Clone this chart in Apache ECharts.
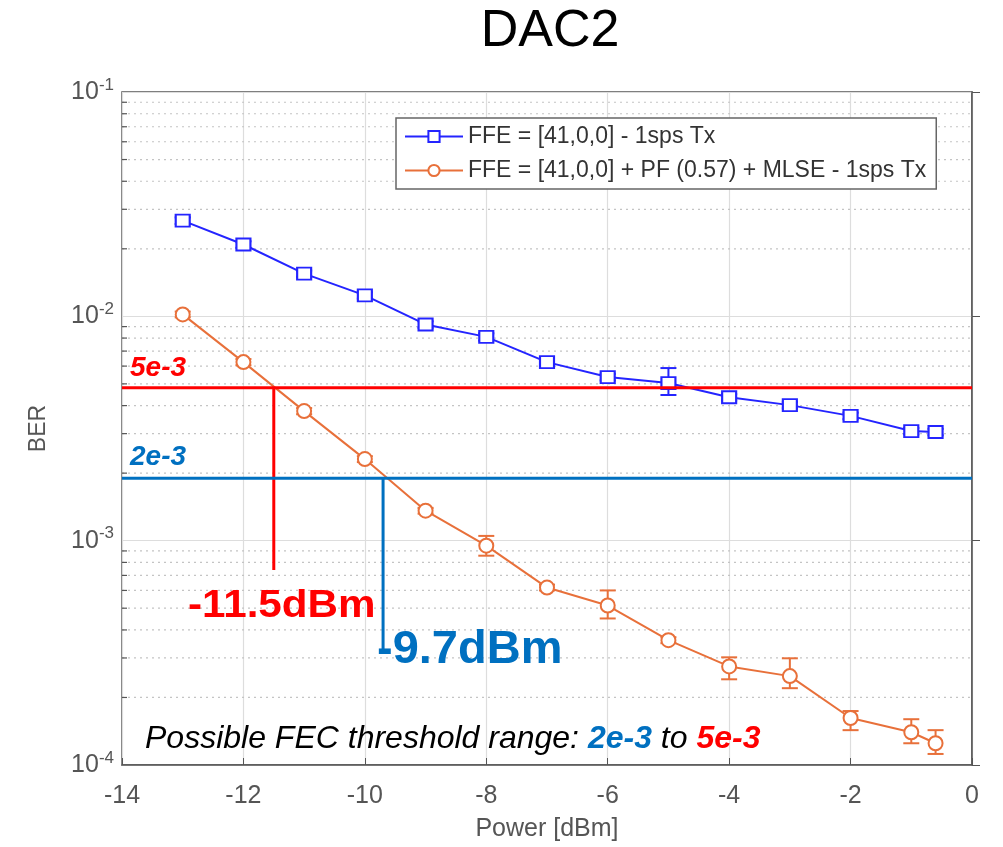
<!DOCTYPE html>
<html><head><meta charset="utf-8">
<script src="https://cdn.jsdelivr.net/npm/echarts@6/dist/echarts.min.js"></script>
<style>html,body{margin:0;padding:0;background:#fff}#c{width:1003px;height:847px}</style>
</head><body><div id="c"></div>
<script>
// ---- data ----
const power = [-13, -12, -11, -10, -9, -8, -7, -6, -5, -4, -3, -2, -1, -0.6];
const berFFE      = [0.0267, 0.0209, 0.0155, 0.0124, 0.0092, 0.0081, 0.00625, 0.00536, 0.00504, 0.00436, 0.00402, 0.0036, 0.00308, 0.00305];
const berFFELow   = [0.0258, 0.0202, 0.0150, 0.0120, 0.0089, 0.0078, 0.00605, 0.00518, 0.00446, 0.00422, 0.00389, 0.00348, 0.00298, 0.00295];
const berFFEHigh  = [0.0276, 0.0216, 0.0160, 0.0128, 0.0095, 0.0084, 0.00645, 0.00554, 0.00588, 0.00450, 0.00415, 0.00372, 0.00318, 0.00315];
const berMLSE     = [0.0102, 0.00625, 0.00378, 0.00231, 0.00136, 0.00095, 0.000618, 0.000514, 0.00036, 0.000275, 0.000249, 0.000162, 0.00014, 0.000125];
const berMLSELow  = [0.0099, 0.00605, 0.00366, 0.00224, 0.00132, 0.000857, 0.00060, 0.00045, 0.000349, 0.000241, 0.00022, 0.000143, 0.000125, 0.000112];
const berMLSEHigh = [0.0105, 0.00645, 0.00390, 0.00238, 0.00140, 0.00105, 0.000637, 0.00060, 0.000371, 0.000302, 0.000299, 0.000174, 0.00016, 0.000143];
const seriesNames = ['FFE = [41,0,0] - 1sps Tx', 'FFE = [41,0,0] + PF (0.57) + MLSE - 1sps Tx'];
const thresholdValues = [0.0048, 0.0019];      // drawn 5e-3 and 2e-3 lines
const thresholdLabels = ['5e-3', '2e-3'];
const crossPower = [-11.5, -9.7];
const crossBottom = [0.00074, 0.00032];
const crossLabels = ['-11.5dBm', '-9.7dBm'];
const xMin = -14, xMax = 0, xStep = 2;
const yMin = 1e-4, yMax = 1e-1;

const RED = '#ff0000', BLUE = '#0070c0';
const thresholdColors = [RED, BLUE];
const C1 = '#2424ff', C2 = '#e8703a';
const FONT = '"Liberation Sans", Arial, sans-serif';

// minor log grid values (2..9 per decade)
const minorVals = [];
for (let e = -4; e <= -2; e++) for (let m = 2; m <= 9; m++) minorVals.push(m * Math.pow(10, e));

function errSeries(low, high, color) {
  return {
    type: 'custom', z: 1, silent: true,
    data: power.map((p, i) => [p, low[i], high[i]]),
    encode: { x: 0, y: [1, 2] },
    renderItem: function (params, api) {
      const x = api.value(0);
      const a = api.coord([x, api.value(1)]);
      const b = api.coord([x, api.value(2)]);
      const w = 8;
      const st = { stroke: color, lineWidth: 2 };
      return { type: 'group', children: [
        { type: 'line', shape: { x1: a[0], y1: a[1], x2: b[0], y2: b[1] }, style: st },
        { type: 'line', shape: { x1: a[0] - w, y1: a[1], x2: a[0] + w, y2: a[1] }, style: st },
        { type: 'line', shape: { x1: b[0] - w, y1: b[1], x2: b[0] + w, y2: b[1] }, style: st }
      ]};
    }
  };
}

const chart = echarts.init(document.getElementById('c'), null, { renderer: 'canvas' });
chart.setOption({
  animation: false,
  backgroundColor: '#fff',
  textStyle: { fontFamily: FONT },
  grid: { left: 122, right: 31, top: 92, bottom: 80, show: true, borderColor: '#555', borderWidth: 1.5, backgroundColor: 'transparent' },
  legend: {
    data: seriesNames, orient: 'vertical', left: 396, top: 118,
    backgroundColor: '#fff', borderColor: '#666', borderWidth: 1.5, padding: [7, 10, 7, 8],
    itemGap: 11, itemWidth: 58, itemHeight: 14,
    textStyle: { fontSize: 23, color: '#333', fontFamily: FONT }
  },
  xAxis: {
    type: 'value', min: xMin, max: xMax, interval: xStep,
    name: 'Power [dBm]', nameLocation: 'middle', nameGap: 52,
    nameTextStyle: { fontSize: 25, color: '#555' },
    axisLine: { show: true, lineStyle: { color: '#555', width: 1.5 } },
    axisTick: { show: true, inside: true, length: 7, lineStyle: { color: '#555' } },
    axisLabel: { fontSize: 25, color: '#555', margin: 19 },
    splitLine: { show: true, lineStyle: { color: '#dddddd', width: 1.2 } }
  },
  yAxis: {
    type: 'log', logBase: 10, min: yMin, max: yMax,
    name: 'BER', nameLocation: 'middle', nameGap: 72,
    nameTextStyle: { fontSize: 23, color: '#555' },
    axisLine: { show: true, lineStyle: { color: '#555', width: 1.5 } },
    axisTick: { show: true, inside: true, length: 8, lineStyle: { color: '#555' } },
    axisLabel: {
      margin: 8, color: '#555',
      formatter: v => '{b|10}{s|' + Math.round(Math.log10(v)) + '}',
      rich: { b: { fontSize: 25, color: '#555' }, s: { fontSize: 17, color: '#555', padding: [0, 0, 14, 0] } }
    },
    splitLine: { show: true, lineStyle: { color: '#dddddd', width: 1.2 } }
  },
  series: [
    {
      type: 'custom', z: 0, silent: true,
      data: minorVals.map(v => [xMin, v]),
      encode: { x: 0, y: 1 },
      renderItem: function (params, api) {
        const v = api.value(1);
        const a = api.coord([xMin, v]);
        const b = api.coord([xMax, v]);
        return { type: 'group', children: [
          { type: 'line', shape: { x1: a[0], y1: a[1], x2: b[0], y2: b[1] }, style: { stroke: '#c4c4c4', lineWidth: 1.2, lineDash: [2, 4] } },
          { type: 'line', shape: { x1: a[0], y1: a[1], x2: a[0] + 5, y2: a[1] }, style: { stroke: '#555', lineWidth: 1.2 } }
        ]};
      }
    },
    errSeries(berFFELow, berFFEHigh, C1),
    errSeries(berMLSELow, berMLSEHigh, C2),
    {
      name: seriesNames[0], type: 'line', z: 3,
      data: power.map((p, i) => [p, berFFE[i]]),
      symbol: 'rect', symbolSize: [14, 12],
      lineStyle: { color: C1, width: 2 },
      itemStyle: { color: '#fff', borderColor: C1, borderWidth: 2 }
    },
    {
      name: seriesNames[1], type: 'line', z: 3,
      data: power.map((p, i) => [p, berMLSE[i]]),
      symbol: 'circle', symbolSize: 14,
      lineStyle: { color: C2, width: 2 },
      itemStyle: { color: '#fff', borderColor: C2, borderWidth: 2 }
    },
    {
      type: 'custom', z: 5, silent: true,
      data: thresholdValues.map((v, i) => [crossPower[i], v, crossBottom[i]]),
      encode: { x: 0, y: [1, 2] },
      renderItem: function (params, api) {
        const col = thresholdColors[params.dataIndex];
        const x = api.value(0), v = api.value(1), bot = api.value(2);
        const a = api.coord([xMin, v]);
        const b = api.coord([xMax, v]);
        const c = api.coord([x, v]);
        const d = api.coord([x, bot]);
        const st = { stroke: col, lineWidth: 3 };
        return { type: 'group', children: [
          { type: 'line', shape: { x1: a[0], y1: a[1], x2: b[0], y2: b[1] }, style: st },
          { type: 'line', shape: { x1: c[0], y1: c[1], x2: d[0], y2: d[1] }, style: st }
        ]};
      }
    }
  ],
  graphic: [
    { type: 'text', x: 550, y: 6, z: 10, style: { text: 'DAC2', font: '52px ' + FONT, fill: '#000', align: 'center', verticalAlign: 'top' } },
    { type: 'text', x: 130, y: 354, z: 10, style: { text: thresholdLabels[0], font: 'italic bold 28px ' + FONT, fill: RED } },
    { type: 'text', x: 130, y: 443, z: 10, style: { text: thresholdLabels[1], font: 'italic bold 28px ' + FONT, fill: BLUE } },
    { type: 'text', x: 188, y: 588, z: 10, scaleX: 1.11, style: { text: crossLabels[0], font: 'bold 38px ' + FONT, fill: RED } },
    { type: 'text', x: 377, y: 627, z: 10, style: { text: crossLabels[1], font: 'bold 47px ' + FONT, fill: BLUE } },
    { type: 'text', x: 145, y: 723, z: 10, style: {
        text: '{k|Possible FEC threshold range: }{b|2e-3}{k| to }{r|5e-3}',
        rich: {
          k: { font: 'italic 32px ' + FONT, fill: '#000' },
          b: { font: 'italic bold 32px ' + FONT, fill: BLUE },
          r: { font: 'italic bold 32px ' + FONT, fill: RED }
        } } }
  ]
});
</script></body></html>
